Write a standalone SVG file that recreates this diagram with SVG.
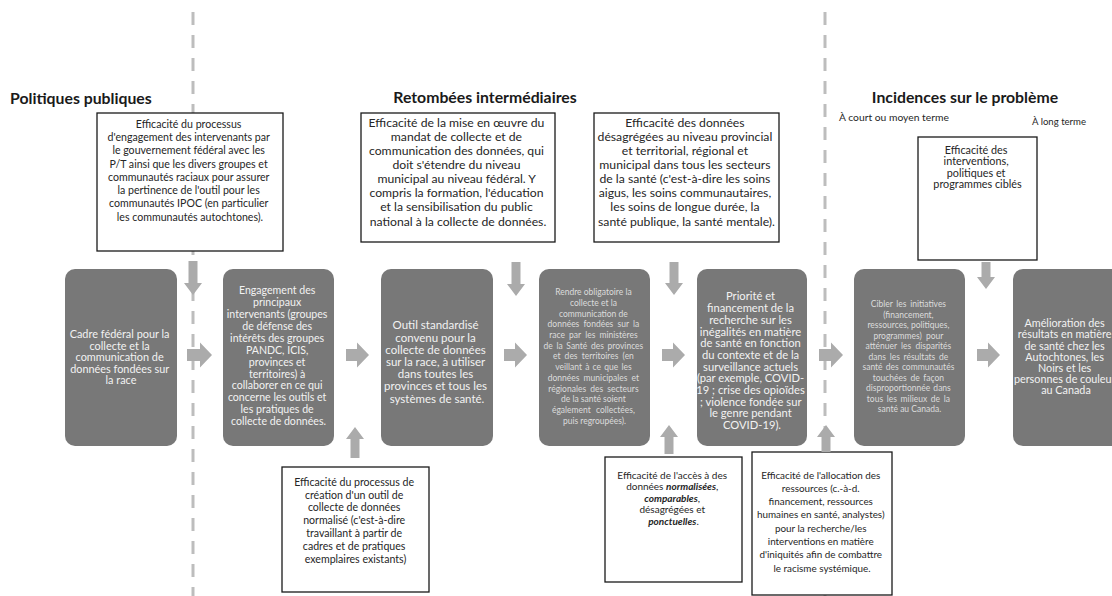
<svg xmlns="http://www.w3.org/2000/svg" width="1112" height="596" viewBox="0 0 1112 596">
<style>
.bg{fill:#ffffff}
.dash{stroke:#bdbdbd;stroke-width:3;stroke-dasharray:13 10;fill:none}
.head{font-family:Lato,"Liberation Sans",sans-serif;font-weight:bold;font-size:15.8px;fill:#1a1a1a}
.sub{font-family:Lato,"Liberation Sans",sans-serif;fill:#262626}
.wbox{fill:#ffffff;stroke:#1a1a1a;stroke-width:1.3}
.gbox{fill:#787878}
.t{font-family:Lato,"Liberation Sans",sans-serif;fill:#262626;text-anchor:middle}
.g{font-family:Lato,"Liberation Sans",sans-serif;fill:#f2f2f2;text-anchor:middle}
.gs{font-family:Lato,"Liberation Sans",sans-serif;fill:#dcdcdc;text-anchor:middle}
.arr{fill:#ababab}
.bi{font-weight:bold;font-style:italic}
</style>
<rect class="bg" x="0" y="0" width="1112" height="596"/>
<g id="dividers">
<line class="dash" x1="193" y1="12" x2="193" y2="596"/>
<line class="dash" x1="825" y1="12" x2="825" y2="596"/>
</g>
<g id="headings">
<text class="head" x="10" y="104">Politiques publiques</text>
<text class="head" x="485" y="103" text-anchor="middle">Retombées intermédiaires</text>
<text class="head" x="965" y="103" text-anchor="middle">Incidences sur le problème</text>
<text class="sub" x="839" y="121" font-size="10.3">À court ou moyen terme</text>
<text class="sub" x="1032" y="125" font-size="9.6">À long terme</text>
</g>
<g id="boxA">
<rect class="wbox" x="97" y="113" width="186" height="138"/>
<text class="t" font-size="10.6">
<tspan x="190" y="127.6">Efficacité du processus</tspan>
<tspan x="190" y="140.9">d'engagement des intervenants par</tspan>
<tspan x="190" y="154.2">le gouvernement fédéral avec les</tspan>
<tspan x="190" y="167.5">P/T ainsi que les divers groupes et</tspan>
<tspan x="190" y="180.8">communautés raciaux pour assurer</tspan>
<tspan x="190" y="194.1">la pertinence de l'outil pour les</tspan>
<tspan x="190" y="207.4">communautés IPOC (en particulier</tspan>
<tspan x="190" y="220.7">les communautés autochtones).</tspan>
</text>
</g>
<g id="boxB">
<rect class="wbox" x="361" y="113" width="194" height="129"/>
<text class="t" font-size="12.2">
<tspan x="458" y="126.8">Efficacité de la mise en œuvre du</tspan>
<tspan x="458" y="140.9">mandat de collecte et de</tspan>
<tspan x="458" y="155">communication des données, qui</tspan>
<tspan x="458" y="169.1">doit s'étendre du niveau</tspan>
<tspan x="458" y="183.2">municipal au niveau fédéral. Y</tspan>
<tspan x="458" y="197.3">compris la formation, l'éducation</tspan>
<tspan x="458" y="211.4">et la sensibilisation du public</tspan>
<tspan x="458" y="225.5">national à la collecte de données.</tspan>
</text>
</g>
<g id="boxC">
<rect class="wbox" x="594" y="113" width="185" height="129"/>
<text class="t" font-size="12.2">
<tspan x="686.5" y="126.8">Efficacité des données</tspan>
<tspan x="686.5" y="140.9">désagrégées au niveau provincial</tspan>
<tspan x="686.5" y="155">et territorial, régional et</tspan>
<tspan x="686.5" y="169.1">municipal dans tous les secteurs</tspan>
<tspan x="686.5" y="183.2">de la santé (c'est-à-dire les soins</tspan>
<tspan x="686.5" y="197.3">aigus, les soins communautaires,</tspan>
<tspan x="686.5" y="211.4">les soins de longue durée, la</tspan>
<tspan x="686.5" y="225.5">santé publique, la santé mentale).</tspan>
</text>
</g>
<g id="boxD">
<rect class="wbox" x="918" y="137" width="119" height="123"/>
<text class="t" font-size="10.8">
<tspan x="977.5" y="153.6">Efficacité des</tspan>
<tspan x="977.5" y="165.1">interventions,</tspan>
<tspan x="977.5" y="176.6">politiques et</tspan>
<tspan x="977.5" y="188.1">programmes ciblés</tspan>
</text>
</g>
<g id="boxE">
<rect class="wbox" x="282" y="467" width="147" height="125"/>
<text class="t" font-size="10.6">
<tspan x="355.5" y="485.6">Efficacité du processus de</tspan>
<tspan x="355.5" y="498.5">création d'un outil de</tspan>
<tspan x="355.5" y="511.4">collecte de données</tspan>
<tspan x="355.5" y="524.3">normalisé (c'est-à-dire</tspan>
<tspan x="355.5" y="537.2">travaillant à partir de</tspan>
<tspan x="355.5" y="550.1">cadres et de pratiques</tspan>
<tspan x="355.5" y="563">exemplaires existants)</tspan>
</text>
</g>
<g id="boxF">
<rect class="wbox" x="605" y="457" width="137" height="125"/>
<text class="t" font-size="10">
<tspan x="673.5" y="478.5">Efficacité de l'accès à des</tspan>
<tspan x="673.5" y="490">données <tspan class="bi">normalisées</tspan>,</tspan>
<tspan x="673.5" y="501.5"><tspan class="bi">comparables</tspan>,</tspan>
<tspan x="673.5" y="513">désagrégées et</tspan>
<tspan x="673.5" y="524.5"><tspan class="bi">ponctuelles</tspan>.</tspan>
</text>
</g>
<g id="boxG">
<rect class="wbox" x="752" y="452" width="140" height="143"/>
<text class="t" font-size="9.9">
<tspan x="822" y="478.5">Efficacité de l'allocation des</tspan>
<tspan x="822" y="491.8">ressources (c.-à-d.</tspan>
<tspan x="822" y="505.1">financement, ressources</tspan>
<tspan x="822" y="518.4">humaines en santé, analystes)</tspan>
<tspan x="822" y="531.7">pour la recherche/les</tspan>
<tspan x="822" y="545">interventions en matière</tspan>
<tspan x="822" y="558.3">d'iniquités afin de combattre</tspan>
<tspan x="822" y="571.6">le racisme systémique.</tspan>
</text>
</g>
<g id="step1">
<rect class="gbox" x="65" y="269" width="112" height="177" rx="10"/>
<text class="g" font-size="10.9">
<tspan x="121" y="338.3">Cadre fédéral pour la</tspan>
<tspan x="121" y="349.8">collecte et la</tspan>
<tspan x="121" y="361.3">communication de</tspan>
<tspan x="121" y="372.8">données fondées sur</tspan>
<tspan x="121" y="384.3">la race</tspan>
</text>
</g>
<g id="step2">
<rect class="gbox" x="223" y="269" width="111" height="177" rx="10"/>
<text class="g" font-size="10.6">
<tspan x="278.5" y="294.2">Engagement des</tspan>
<tspan x="278.5" y="306.1">principaux</tspan>
<tspan x="278.5" y="318">intervenants (groupes</tspan>
<tspan x="278.5" y="329.9">de défense des</tspan>
<tspan x="278.5" y="341.8">intérêts des groupes</tspan>
<tspan x="278.5" y="353.7">PANDC, ICIS,</tspan>
<tspan x="278.5" y="365.6">provinces et</tspan>
<tspan x="278.5" y="377.5">territoires) à</tspan>
<tspan x="278.5" y="389.4">collaborer en ce qui</tspan>
<tspan x="278.5" y="401.3">concerne les outils et</tspan>
<tspan x="278.5" y="413.2">les pratiques de</tspan>
<tspan x="278.5" y="425.1">collecte de données.</tspan>
</text>
</g>
<g id="step3">
<rect class="gbox" x="381" y="269" width="112" height="177" rx="10"/>
<text class="g" font-size="11.5">
<tspan x="437" y="329.4">Outil standardisé</tspan>
<tspan x="437" y="341.6">convenu pour la</tspan>
<tspan x="437" y="353.8">collecte de données</tspan>
<tspan x="437" y="366">sur la race, à utiliser</tspan>
<tspan x="437" y="378.2">dans toutes les</tspan>
<tspan x="437" y="390.4">provinces et tous les</tspan>
<tspan x="437" y="402.6">systèmes de santé.</tspan>
</text>
</g>
<g id="step4">
<rect class="gbox" x="539" y="269" width="111" height="177" rx="10"/>
<text class="gs" font-size="8.5">
<tspan x="594.5" y="295.2">Rendre obligatoire la</tspan>
<tspan x="594.5" y="305.9">collecte et la</tspan>
<tspan x="594.5" y="316.6">communication de</tspan>
<tspan x="594.5" y="327.3" word-spacing="2">données fondées sur la</tspan>
<tspan x="594.5" y="338" word-spacing="2">race par les ministères</tspan>
<tspan x="594.5" y="348.7" word-spacing="1.5">de la Santé des provinces</tspan>
<tspan x="594.5" y="359.4" word-spacing="2">et des territoires (en</tspan>
<tspan x="594.5" y="370.1" word-spacing="1">veillant à ce que les</tspan>
<tspan x="594.5" y="380.8" word-spacing="2">données municipales et</tspan>
<tspan x="594.5" y="391.5" word-spacing="2">régionales des secteurs</tspan>
<tspan x="594.5" y="402.2">de la santé soient</tspan>
<tspan x="594.5" y="412.9" word-spacing="3">également collectées,</tspan>
<tspan x="594.5" y="423.6">puis regroupées).</tspan>
</text>
</g>
<g id="step5">
<rect class="gbox" x="697" y="269" width="110" height="177" rx="10"/>
<text class="g" font-size="11.2">
<tspan x="752" y="300.4">Priorité et</tspan>
<tspan x="752" y="312.1">financement de la</tspan>
<tspan x="752" y="323.8">recherche sur les</tspan>
<tspan x="752" y="335.5">inégalités en matière</tspan>
<tspan x="752" y="347.2">de santé en fonction</tspan>
<tspan x="752" y="358.9">du contexte et de la</tspan>
<tspan x="752" y="370.6">surveillance actuels</tspan>
<tspan x="752" y="382.3">(par exemple, COVID-</tspan>
<tspan x="752" y="394">19 ; crise des opioïdes</tspan>
<tspan x="752" y="405.7">; violence fondée sur</tspan>
<tspan x="752" y="417.4">le genre pendant</tspan>
<tspan x="752" y="429.1">COVID-19).</tspan>
</text>
</g>
<g id="step6">
<rect class="gbox" x="854" y="269" width="111" height="177" rx="10"/>
<text class="gs" font-size="8.5">
<tspan x="909.5" y="307.4" word-spacing="1.5">Cibler les initiatives</tspan>
<tspan x="909.5" y="317.9">(financement,</tspan>
<tspan x="909.5" y="328.4">ressources, politiques,</tspan>
<tspan x="909.5" y="338.9" word-spacing="2">programmes) pour</tspan>
<tspan x="909.5" y="349.4" word-spacing="2">atténuer les disparités</tspan>
<tspan x="909.5" y="359.9" word-spacing="1.5">dans les résultats de</tspan>
<tspan x="909.5" y="370.4" word-spacing="1">santé des communautés</tspan>
<tspan x="909.5" y="380.9" word-spacing="1.5">touchées de façon</tspan>
<tspan x="909.5" y="391.4" word-spacing="1">disproportionnée dans</tspan>
<tspan x="909.5" y="401.9" word-spacing="1.5">tous les milieux de la</tspan>
<tspan x="909.5" y="412.4">santé au Canada.</tspan>
</text>
</g>
<g id="step7">
<rect class="gbox" x="1013" y="269" width="112" height="177" rx="10"/>
<text class="g" font-size="10.8">
<tspan x="1066" y="327.2">Amélioration des</tspan>
<tspan x="1066" y="338.4">résultats en matière</tspan>
<tspan x="1066" y="349.6">de santé chez les</tspan>
<tspan x="1066" y="360.8">Autochtones, les</tspan>
<tspan x="1066" y="372">Noirs et les</tspan>
<tspan x="1066" y="383.2">personnes de couleur</tspan>
<tspan x="1066" y="394.4">au Canada</tspan>
</text>
</g>
<g id="connectors">
<path class="arr" d="M187 349 H200 V342.5 L212 355 L200 367.5 V361 H187 Z"/>
<path class="arr" d="M346 349 H357 V342.5 L369 355 L357 367.5 V361 H346 Z"/>
<path class="arr" d="M504 349 H515 V342.5 L527 355 L515 367.5 V361 H504 Z"/>
<path class="arr" d="M662 349 H673 V342.5 L685 355 L673 367.5 V361 H662 Z"/>
<path class="arr" d="M819 349 H831 V342.5 L843 355 L831 367.5 V361 H819 Z"/>
<path class="arr" d="M977 349 H988 V342.5 L1000 355 L988 367.5 V361 H977 Z"/>
<path class="arr" d="M188.5 261 H197.5 V283 H202 L193 295 L184 283 H188.5 Z"/>
<path class="arr" d="M511.5 262 H520.5 V284 H525 L516 296 L507 284 H511.5 Z"/>
<path class="arr" d="M669.5 262 H678.5 V283 H683 L674 295 L665 283 H669.5 Z"/>
<path class="arr" d="M981.5 262 H990.5 V277 H995 L986 289 L977 277 H981.5 Z"/>
<path class="arr" d="M350.5 458 H359.5 V439 H364 L355 427 L346 439 H350.5 Z"/>
<path class="arr" d="M664.5 454 H673.5 V437 H678 L669 425 L660 437 H664.5 Z"/>
<path class="arr" d="M821.5 452 H830.5 V437 H835 L826 425 L817 437 H821.5 Z"/>
</g>
</svg>
